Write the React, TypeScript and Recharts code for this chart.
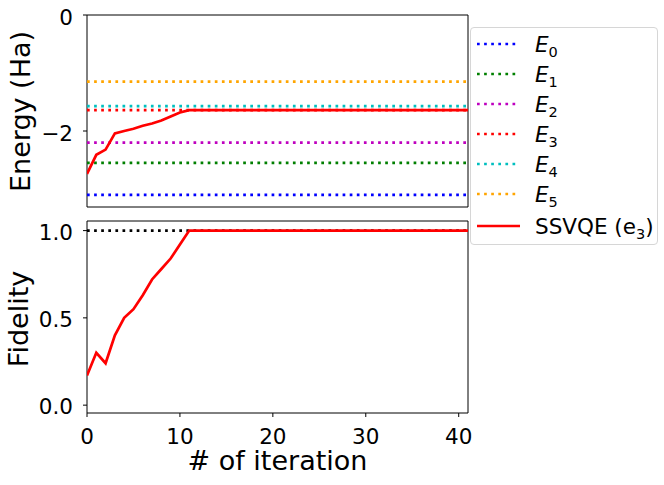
import React from "react";
import {
  LineChart,
  Line,
  XAxis,
  YAxis,
  ReferenceLine,
  ReferenceArea,
} from "recharts";

const iterations = [
  0, 1, 2, 3, 4, 5, 6, 7, 8, 9, 10, 11, 12, 13, 14, 15, 16, 17, 18, 19, 20,
  21, 22, 23, 24, 25, 26, 27, 28, 29, 30, 31, 32, 33, 34, 35, 36, 37, 38, 39,
  40, 41,
];

const energySsvqe = [
  -2.74, -2.41, -2.32, -2.04, -2.0, -1.96, -1.91, -1.87, -1.82, -1.75, -1.68,
  -1.64, -1.64, -1.64, -1.64, -1.64, -1.64, -1.64, -1.64, -1.64, -1.64, -1.64,
  -1.64, -1.64, -1.64, -1.64, -1.64, -1.64, -1.64, -1.64, -1.64, -1.64, -1.64,
  -1.64, -1.64, -1.64, -1.64, -1.64, -1.64, -1.64, -1.64, -1.64,
];

const fidelity = [
  0.17, 0.3, 0.24, 0.4, 0.5, 0.55, 0.63, 0.72, 0.78, 0.84, 0.92, 1.0, 1.0, 1.0,
  1.0, 1.0, 1.0, 1.0, 1.0, 1.0, 1.0, 1.0, 1.0, 1.0, 1.0, 1.0, 1.0, 1.0, 1.0,
  1.0, 1.0, 1.0, 1.0, 1.0, 1.0, 1.0, 1.0, 1.0, 1.0, 1.0, 1.0, 1.0,
];

// exact eigenvalues E0..E5
const levelValues = [-3.1, -2.55, -2.2, -1.64, -1.57, -1.15];
const levelColors = ["#0000ff", "#008000", "#bf00bf", "#ff0000", "#00bfbf", "#ffa500"];
const targetFidelity = 1.0;

const xTicks = [0, 10, 20, 30, 40];
const energyTicks = [-2, 0];
const fidelityTicks = [0, 0.5, 1.0];

const data = iterations.map((it, i) => ({
  it,
  energy: energySsvqe[i],
  fidelity: fidelity[i],
}));

const FONT = "'DejaVu Sans', sans-serif";
const DOT = "2.7 4.4";
const TICK_FS = 21.5;

const makeYTick = (fmt: (v: number) => string, shift: number) => (props: any) => {
  const { x, y, payload } = props;
  return (
    <text
      x={x}
      y={y + shift}
      dy="0.355em"
      textAnchor="end"
      fontSize={TICK_FS}
      fontFamily={FONT}
      fill="#000"
    >
      {fmt(payload.value)}
    </text>
  );
};

const energyTick = makeYTick((v) => (v < 0 ? "\u2212" + Math.abs(v) : String(v)), 2);
const fidelityTick = makeYTick((v) => v.toFixed(1), 1.5);

const Legend = () => (
  <div
    style={{
      position: "absolute",
      left: 470,
      top: 27,
      width: 186,
      height: 216,
      border: "1px solid #d6d6d6",
      borderRadius: 4,
      background: "#fff",
      fontFamily: FONT,
      fontSize: 21.5,
      color: "#000",
    }}
  >
    {levelColors.map((c, i) => (
      <div
        key={i}
        style={{ position: "absolute", left: 0, top: 1 + 30 * i, height: 30, display: "flex", alignItems: "center" }}
      >
        <svg width={42} height={4} style={{ marginLeft: 6 }}>
          <line x1={0} y1={2} x2={42} y2={2} stroke={c} strokeWidth={2.7} strokeDasharray={DOT} />
        </svg>
        <span style={{ marginLeft: 16, whiteSpace: "nowrap" }}>
          <i>E</i>
          <span style={{ fontSize: 14.5, position: "relative", top: 5 }}>{i}</span>
        </span>
      </div>
    ))}
    <div style={{ position: "absolute", left: 0, top: 183, height: 30, display: "flex", alignItems: "center" }}>
      <svg width={43} height={4} style={{ marginLeft: 6 }}>
        <line x1={0} y1={2} x2={43} y2={2} stroke="#ff0000" strokeWidth={2.7} />
      </svg>
      <span style={{ marginLeft: 15, whiteSpace: "nowrap" }}>
        SSVQE (e<span style={{ fontSize: 14.5, position: "relative", top: 5 }}>3</span>)
      </span>
    </div>
  </div>
);

export default function App() {
  return (
    <div
      style={{
        position: "absolute",
        left: 0,
        top: 0,
        width: 664,
        height: 485,
        background: "#fff",
        fontFamily: FONT,
      }}
    >
      <div style={{ position: "absolute", left: 0, top: 0 }}>
        <LineChart width={664} height={215} data={data} margin={{ top: 15, right: 196, left: 0, bottom: 0 }}>
          <XAxis
            dataKey="it"
            type="number"
            domain={[0, 41]}
            ticks={xTicks}
            allowDataOverflow
            tick={false}
            tickSize={4}
            height={8}
            axisLine={false}
            tickLine={{ stroke: "#000" }}
          />
          <YAxis
            type="number"
            domain={[-3.31, 0]}
            ticks={energyTicks}
            allowDataOverflow
            width={87}
            tickSize={4}
            tickMargin={10}
            tick={energyTick}
            axisLine={false}
            tickLine={{ stroke: "#000" }}
          />
          {levelValues.map((v, i) => (
            <ReferenceLine
              key={i}
              y={v}
              stroke={levelColors[i]}
              strokeWidth={2.7}
              strokeDasharray={DOT}
            />
          ))}
          <Line
            dataKey="energy"
            stroke="#ff0000"
            strokeWidth={2.7}
            dot={false}
            isAnimationActive={false}
          />
          <ReferenceArea x1={0} x2={41} y1={-3.31} y2={0} fill="none" stroke="#000" strokeWidth={1} />
        </LineChart>
      </div>
      <div style={{ position: "absolute", left: 0, top: 215 }}>
        <LineChart width={664} height={270} data={data} margin={{ top: 6, right: 196, left: 0, bottom: 0 }}>
          <XAxis
            dataKey="it"
            type="number"
            domain={[0, 41]}
            ticks={xTicks}
            allowDataOverflow
            tickSize={4}
            tickMargin={11.5}
            height={72}
            axisLine={false}
            tickLine={{ stroke: "#000" }}
            tick={{ fontSize: TICK_FS, fill: "#000", fontFamily: FONT }}
          />
          <YAxis
            type="number"
            domain={[-0.045, 1.055]}
            ticks={fidelityTicks}
            allowDataOverflow
            width={87}
            tickSize={4}
            tickMargin={10}
            tick={fidelityTick}
            axisLine={false}
            tickLine={{ stroke: "#000" }}
          />
          <ReferenceLine y={targetFidelity} stroke="#000" strokeWidth={2.7} strokeDasharray={DOT} />
          <Line
            dataKey="fidelity"
            stroke="#ff0000"
            strokeWidth={2.7}
            dot={false}
            isAnimationActive={false}
          />
          <ReferenceArea x1={0} x2={41} y1={-0.045} y2={1.055} fill="none" stroke="#000" strokeWidth={1} />
        </LineChart>
      </div>
      <svg
        width={664}
        height={485}
        style={{ position: "absolute", left: 0, top: 0, pointerEvents: "none" }}
      >
        <text x={30} y={111.5} transform="rotate(-90 30 111.5)" textAnchor="middle" fontSize={27} fontFamily={FONT}>
          Energy (Ha)
        </text>
        <text x={28} y={319} transform="rotate(-90 28 319)" textAnchor="middle" fontSize={27} fontFamily={FONT}>
          Fidelity
        </text>
        <text x={277.5} y={470} textAnchor="middle" fontSize={27} fontFamily={FONT}>
          # of iteration
        </text>
      </svg>
      <Legend />
    </div>
  );
}
